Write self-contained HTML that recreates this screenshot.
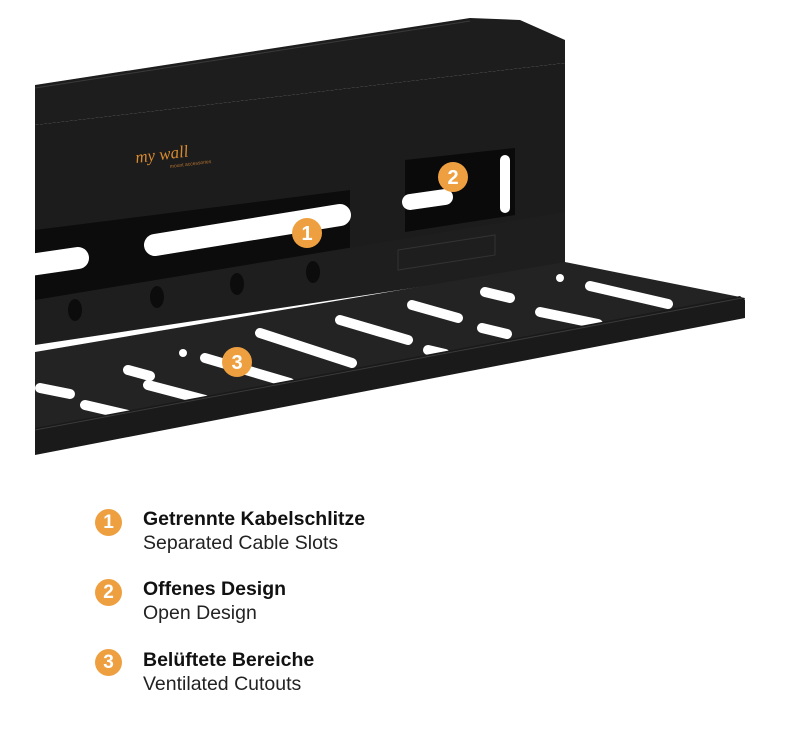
<!DOCTYPE html>
<html><head><style>
body{margin:0;background:#fff;width:800px;height:730px;overflow:hidden;font-family:"Liberation Sans",sans-serif}
.t{position:absolute;left:143px;color:#111;white-space:nowrap}
.b{font-weight:bold;font-size:19.5px}
.r{font-size:19.5px;color:#222}
.badge{position:absolute;left:95px;width:27px;height:27px;border-radius:50%;background:#eea040;color:#fff;font-weight:bold;font-size:19px;text-align:center;line-height:27px}
</style></head><body>
<svg width="800" height="470" style="position:absolute;left:0;top:0">
<polygon points="35,85 470,18 520,20 565,40 565,63 35,125" fill="#1d1d1d"/>
<line x1="35" y1="88" x2="470" y2="21" stroke="#3a3a3a" stroke-width="1"/>
<polygon points="35,125 565,63 565,262 35,340" fill="#1c1c1c"/>
<polygon points="35,230 350,190 350,260 35,300" fill="#0c0c0c"/>
<line x1="155" y1="245" x2="340" y2="215" stroke="#fff" stroke-width="22" stroke-linecap="round"/>
<line x1="30" y1="265" x2="78" y2="258" stroke="#fff" stroke-width="22" stroke-linecap="round"/>
<polygon points="405,160 515,148 515,215 405,232" fill="#0a0a0a"/>
<line x1="410" y1="202" x2="445" y2="197" stroke="#fff" stroke-width="16" stroke-linecap="round"/>
<rect x="500" y="155" width="10" height="58" rx="5" fill="#fff"/>
<polygon points="35,300 565,212 565,265 35,345" fill="#1e1e1e"/>
<polygon points="398,250 495,235 495,255 398,270" fill="none" stroke="#333" stroke-width="1"/>
<g fill="#0c0c0c">
<ellipse cx="75" cy="310" rx="7" ry="11"/><ellipse cx="157" cy="297" rx="7" ry="11"/><ellipse cx="237" cy="284" rx="7" ry="11"/><ellipse cx="313" cy="272" rx="7" ry="11"/>
</g>
<polygon points="35,352 565,262 745,298 740,312 35,432" fill="#232323"/>
<g stroke="#fff" stroke-width="10" stroke-linecap="round">
<line x1="590" y1="286" x2="668" y2="304"/>
<line x1="485" y1="292" x2="510" y2="298"/>
<line x1="540" y1="312" x2="598" y2="324"/>
<line x1="412" y1="305" x2="458" y2="318"/>
<line x1="482" y1="328" x2="507" y2="334"/>
<line x1="340" y1="320" x2="408" y2="340"/>
<line x1="260" y1="333" x2="352" y2="363"/>
<line x1="205" y1="358" x2="290" y2="383"/>
<line x1="128" y1="370" x2="150" y2="376"/>
<line x1="148" y1="385" x2="205" y2="400"/>
<line x1="40" y1="388" x2="70" y2="394"/>
<line x1="85" y1="405" x2="128" y2="415"/>
<line x1="428" y1="350" x2="445" y2="354"/>
</g>
<circle cx="560" cy="278" r="4" fill="#fff"/><circle cx="183" cy="353" r="4" fill="#fff"/>
<polygon points="35,428 740,296 745,300 745,318 35,455" fill="#1a1a1a"/>
<line x1="35" y1="430" x2="742" y2="298" stroke="#3a3a3a"/>
<text x="136" y="163" font-family="Liberation Serif,serif" font-style="italic" font-size="17" fill="#d98a30" transform="rotate(-7 136 163)">my wall</text>
<text x="170" y="168" font-size="5" fill="#b07030" transform="rotate(-7 170 168)">mount accessories</text>
<g fill="#eea040"><circle cx="307" cy="233" r="15"/><circle cx="453" cy="177" r="15"/><circle cx="237" cy="362" r="15"/></g>
<g fill="#fff" font-weight="bold" font-size="20" text-anchor="middle">
<text x="307" y="240">1</text><text x="453" y="184">2</text><text x="237" y="369">3</text></g>
</svg>
<div class="badge" style="top:509px">1</div>
<div class="t b" style="top:508px">Getrennte Kabelschlitze</div>
<div class="t r" style="top:532px">Separated Cable Slots</div>
<div class="badge" style="top:579px">2</div>
<div class="t b" style="top:578px">Offenes Design</div>
<div class="t r" style="top:602px">Open Design</div>
<div class="badge" style="top:649px">3</div>
<div class="t b" style="top:649px">Belüftete Bereiche</div>
<div class="t r" style="top:673px">Ventilated Cutouts</div>
</body></html>
